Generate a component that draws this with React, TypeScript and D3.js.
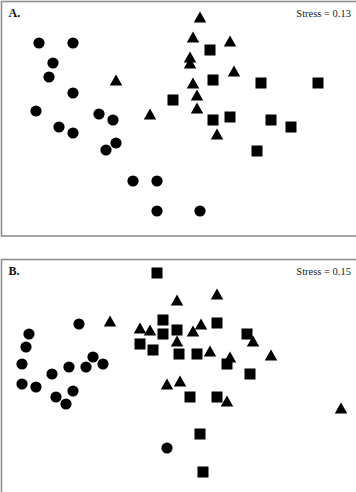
import React from "react";
import * as d3 from "d3";

// NMDS coordinates (axis 1, axis 2)
const panelA_circles: [number, number][] = [
  [-1.39, 0.79], [-1.05, 0.79], [-1.25, 0.59], [-1.29, 0.45], [-1.05, 0.29],
  [-1.42, 0.11], [-1.19, -0.05], [-1.05, -0.11], [-0.79, 0.08], [-0.65, 0.02],
  [-0.62, -0.21], [-0.72, -0.28], [-0.45, -0.59], [-0.21, -0.59], [-0.21, -0.89],
  [0.22, -0.89],
];
const panelA_triangles: [number, number][] = [
  [-0.62, 0.42], [-0.28, 0.08], [0.22, 1.05], [0.15, 0.85], [0.52, 0.81],
  [0.12, 0.65], [0.12, 0.59], [0.56, 0.51], [0.15, 0.39], [0.19, 0.27],
  [0.19, 0.14], [0.39, -0.12],
];
const panelA_squares: [number, number][] = [
  [-0.05, 0.22], [0.32, 0.72], [0.35, 0.42], [0.83, 0.39], [1.4, 0.39],
  [0.35, 0.02], [0.52, 0.05], [0.93, 0.02], [1.13, -0.05], [0.79, -0.29],
];

const panelB_circles: [number, number][] = [
  [-0.99, 0.51], [-1.49, 0.41], [-1.52, 0.28], [-1.56, 0.11], [-0.85, 0.18],
  [-0.75, 0.11], [-0.92, 0.08], [-1.09, 0.08], [-1.26, 0.01], [-1.56, -0.09],
  [-1.42, -0.12], [-1.05, -0.16], [-1.22, -0.22], [-1.12, -0.29], [-0.11, -0.73],
];
const panelB_triangles: [number, number][] = [
  [-0.68, 0.54], [-0.38, 0.47], [-0.28, 0.45], [-0.01, 0.75], [0.39, 0.81],
  [0.23, 0.51], [0.15, 0.44], [-0.01, 0.34], [0.32, 0.24], [0.75, 0.34],
  [0.93, 0.2], [0.52, 0.18], [-0.11, -0.09], [0.02, -0.06], [0.49, -0.26],
  [1.63, -0.33],
];
const panelB_squares: [number, number][] = [
  [-0.21, 1.02], [-0.15, 0.55], [-0.15, 0.41], [-0.38, 0.31], [-0.25, 0.25],
  [-0.01, 0.45], [0.01, 0.21], [0.19, 0.21], [0.39, 0.52], [0.69, 0.41],
  [0.49, 0.11], [0.72, 0.01], [0.12, -0.22], [0.39, -0.22], [0.22, -0.59],
  [0.25, -0.97],
];

const panelLabels = ["A.", "B."];
const stressLabels = ["Stress = 0.13", "Stress = 0.15"];

const W = 356;
const H = 492;

type Pt = [number, number];

function Panel({
  top,
  bottom,
  yDomain,
  circles,
  triangles,
  squares,
  label,
  stress,
}: {
  top: number;
  bottom: number;
  yDomain: [number, number];
  circles: Pt[];
  triangles: Pt[];
  squares: Pt[];
  label: string;
  stress: string;
}) {
  const x = d3.scaleLinear().domain([-1.78, 1.78]).range([0, W]);
  const y = d3.scaleLinear().domain(yDomain).range([top, bottom]);
  const r = 5.6;
  const sq = 11;
  const tw = 12.5;
  const th = 11;
  const tri = (cx: number, cy: number) => {
    const p = d3.path();
    p.moveTo(cx, cy - th / 2);
    p.lineTo(cx + tw / 2, cy + th / 2);
    p.lineTo(cx - tw / 2, cy + th / 2);
    p.closePath();
    return p.toString();
  };
  return (
    <g>
      <rect
        x={1.5}
        y={top + 0.5}
        width={W + 20}
        height={bottom - top}
        fill="white"
        stroke="#8f8f8f"
        strokeWidth={1.6}
      />
      <text
        x={8.5}
        y={top + 16}
        fontFamily="Liberation Serif, Times New Roman, serif"
        fontWeight="bold"
        fontSize={12}
        fill="#111"
      >
        {label}
      </text>
      <text
        x={W - 5}
        y={top + 16}
        textAnchor="end"
        fontFamily="Liberation Serif, Times New Roman, serif"
        fontSize={10.5}
        fill="#222"
      >
        {stress}
      </text>
      {circles.map((d, i) => (
        <circle key={"c" + i} cx={x(d[0])} cy={y(d[1])} r={r} fill="#000" />
      ))}
      {squares.map((d, i) => (
        <rect
          key={"s" + i}
          x={x(d[0]) - sq / 2}
          y={y(d[1]) - sq / 2}
          width={sq}
          height={sq}
          fill="#000"
        />
      ))}
      {triangles.map((d, i) => (
        <path key={"t" + i} d={tri(x(d[0]), y(d[1]))} fill="#000" />
      ))}
    </g>
  );
}

export default function App() {
  return (
    <svg
      width={W}
      height={H}
      style={{ position: "absolute", left: 0, top: 0, background: "white" }}
    >
      <rect x={0} y={0} width={W} height={H} fill="white" />
      <Panel
        top={1}
        bottom={235.5}
        yDomain={[1.21, -1.135]}
        circles={panelA_circles}
        triangles={panelA_triangles}
        squares={panelA_squares}
        label={panelLabels[0]}
        stress={stressLabels[0]}
      />
      <Panel
        top={259}
        bottom={259 + 250}
        yDomain={[1.16, -1.34]}
        circles={panelB_circles}
        triangles={panelB_triangles}
        squares={panelB_squares}
        label={panelLabels[1]}
        stress={stressLabels[1]}
      />
    </svg>
  );
}
